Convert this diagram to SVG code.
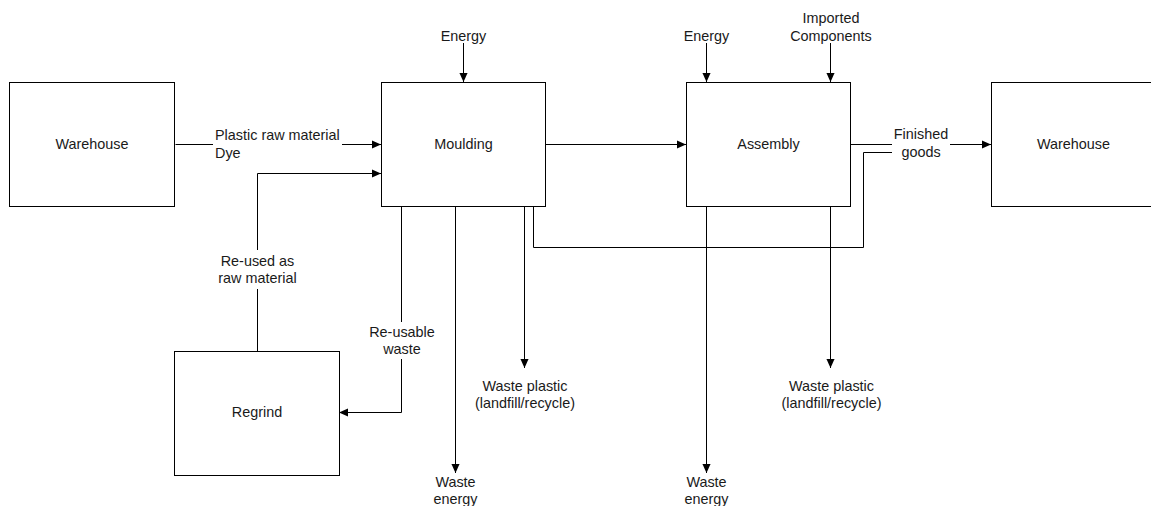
<svg xmlns="http://www.w3.org/2000/svg" width="1151" height="506" viewBox="0 0 1151 506">
<style>
.box{fill:#fff;stroke:#000;stroke-width:1}
.ln{fill:none;stroke:#000;stroke-width:1}
text{font-family:"Liberation Sans",Arial,sans-serif;font-size:14.4px;fill:#1a1a1a}
.c{text-anchor:middle}
</style>
<defs>
<marker id="arr" viewBox="0 0 10 10" refX="10" refY="5" markerWidth="9" markerHeight="9" markerUnits="userSpaceOnUse" orient="auto">
<path d="M0,0.5 L10,5 L0,9.5 Z" fill="#000"/>
</marker>
</defs>
<rect width="1151" height="506" fill="#fff"/>
<g id="connectors">
<path class="ln" d="M175.5,144.5 H213"/>
<path class="ln" d="M342,144.5 H381" marker-end="url(#arr)"/>
<path class="ln" d="M257.5,351 V289"/>
<path class="ln" d="M257.5,250 V173.5 H381" marker-end="url(#arr)"/>
<path class="ln" d="M401.5,206 V322"/>
<path class="ln" d="M401.5,359 V412.5 H339" marker-end="url(#arr)"/>
<path class="ln" d="M455.5,206 V473" marker-end="url(#arr)"/>
<path class="ln" d="M524.5,206 V368" marker-end="url(#arr)"/>
<path class="ln" d="M546,144.5 H686" marker-end="url(#arr)"/>
<path class="ln" d="M463.5,43 V82" marker-end="url(#arr)"/>
<path class="ln" d="M706.5,43 V82" marker-end="url(#arr)"/>
<path class="ln" d="M830.5,43 V82" marker-end="url(#arr)"/>
<path class="ln" d="M706.5,206 V473" marker-end="url(#arr)"/>
<path class="ln" d="M830.5,206 V368" marker-end="url(#arr)"/>
<path class="ln" d="M533.5,206 V247.5 H863.5 V152.5 H892"/>
<path class="ln" d="M851,144.5 H892"/>
<path class="ln" d="M950,144.5 H991" marker-end="url(#arr)"/>
<text x="215" y="140">Plastic raw material</text>
<text x="215" y="158">Dye</text>
<text class="c" x="257.5" y="266">Re-used as</text>
<text class="c" x="257.5" y="283">raw material</text>
<text class="c" x="402" y="337">Re-usable</text>
<text class="c" x="402" y="354">waste</text>
<text class="c" x="455.5" y="487">Waste</text>
<text class="c" x="455.5" y="504">energy</text>
<text class="c" x="525" y="391">Waste plastic</text>
<text class="c" x="525" y="408">(landfill/recycle)</text>
<text class="c" x="706.5" y="487">Waste</text>
<text class="c" x="706.5" y="504">energy</text>
<text class="c" x="831.5" y="391">Waste plastic</text>
<text class="c" x="831.5" y="408">(landfill/recycle)</text>
<text class="c" x="463.5" y="41">Energy</text>
<text class="c" x="706.5" y="41">Energy</text>
<text class="c" x="831" y="23">Imported</text>
<text class="c" x="831" y="41">Components</text>
<text class="c" x="921" y="139">Finished</text>
<text class="c" x="921" y="157">goods</text>
</g>
<g id="warehouse-left">
<rect class="box" x="9.5" y="82.5" width="165" height="124"/>
<text class="c" x="92" y="149">Warehouse</text>
</g>
<g id="moulding">
<rect class="box" x="381.5" y="82.5" width="164" height="124"/>
<text class="c" x="463.5" y="149">Moulding</text>
</g>
<g id="assembly">
<rect class="box" x="686.5" y="82.5" width="164" height="124"/>
<text class="c" x="768.5" y="149">Assembly</text>
</g>
<g id="warehouse-right">
<rect class="box" x="991.5" y="82.5" width="165" height="124"/>
<text class="c" x="1073.5" y="149">Warehouse</text>
</g>
<g id="regrind">
<rect class="box" x="174.5" y="351.5" width="165" height="124"/>
<text class="c" x="257" y="417">Regrind</text>
</g>
</svg>
